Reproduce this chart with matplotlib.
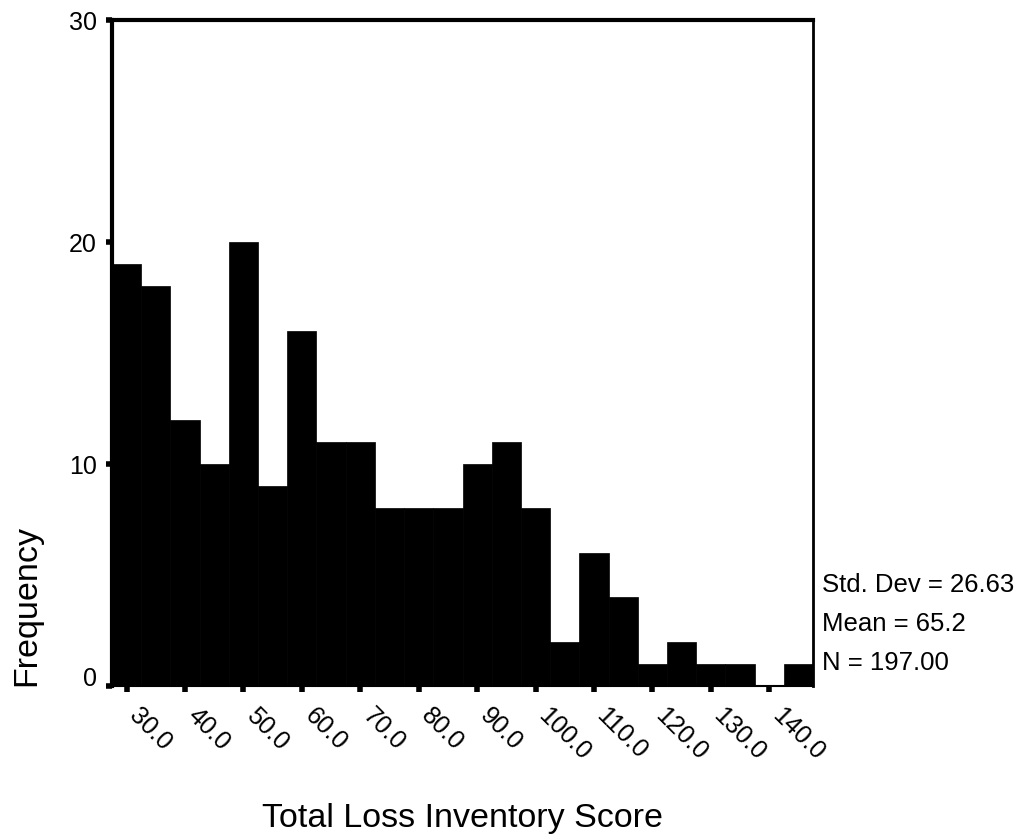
import matplotlib
matplotlib.use("Agg")
import matplotlib.pyplot as plt
import matplotlib.transforms as mtransforms
import numpy as np

plt.rcParams['font.family'] = ['Liberation Sans', 'DejaVu Sans']

# histogram of Total Loss Inventory Score (bin width 5, midpoints 30 ... 145)
bin_mids = [30, 35, 40, 45, 50, 55, 60, 65, 70, 75, 80, 85,
            90, 95, 100, 105, 110, 115, 120, 125, 130, 135, 140, 145]
counts = [19, 18, 12, 10, 20, 9, 16, 11, 11, 8, 8, 8,
          10, 11, 8, 2, 6, 4, 1, 2, 1, 1, 0, 1]
x_ticks = [30, 40, 50, 60, 70, 80, 90, 100, 110, 120, 130, 140]
y_ticks = [0, 10, 20, 30]
stats = ["Std. Dev = 26.63", "Mean = 65.2", "N = 197.00"]

W, H = 1019, 839
fig = plt.figure(figsize=(W / 100, H / 100), dpi=100)
ax = fig.add_axes([112 / W, 153 / H, 701 / W, 666 / H])

ax.bar(bin_mids, counts, width=5, color='black', edgecolor='black', linewidth=0.5)
ax.set_xlim(27.5, 147.5)
ax.set_ylim(0, 30)

ax.set_xticks(x_ticks)
ax.set_xticklabels([f"{v:.1f}" for v in x_ticks])
ax.set_yticks(y_ticks)
ax.set_yticklabels([str(v) for v in y_ticks])
ax.tick_params(direction='out', length=4, width=4, labelsize=18, color='black')
ax.tick_params(axis='x', pad=9)
ax.tick_params(axis='y', pad=7)

shift = mtransforms.ScaledTranslation(15 / 100, 0, fig.dpi_scale_trans)
for lab in ax.get_xticklabels():
    lab.set_rotation(-45)
    lab.set_ha('left')
    lab.set_va('top')
    lab.set_rotation_mode('anchor')
    lab.set_transform(lab.get_transform() + shift)

# SPSS lifts the bottom y label a little
up = mtransforms.ScaledTranslation(0, 10 / 100, fig.dpi_scale_trans)
lab0 = ax.get_yticklabels()[0]
lab0.set_transform(lab0.get_transform() + up)

for side, lw in [('left', 3), ('top', 3), ('right', 2), ('bottom', 1.5)]:
    ax.spines[side].set_linewidth(lw)
    ax.spines[side].set_color('black')

fig.text(462 / W, 1 - 818 / H, "Total Loss Inventory Score", fontsize=24.5,
         ha='center', va='center')
fig.text(27 / W, 1 - 606 / H, "Frequency", fontsize=24.5, rotation=90,
         ha='center', va='center')

for i, s in enumerate(stats):
    fig.text(822 / W, 1 - (585 + 39 * i) / H, s, fontsize=18.5, ha='left', va='center')

fig.savefig("out.png", dpi=100)
